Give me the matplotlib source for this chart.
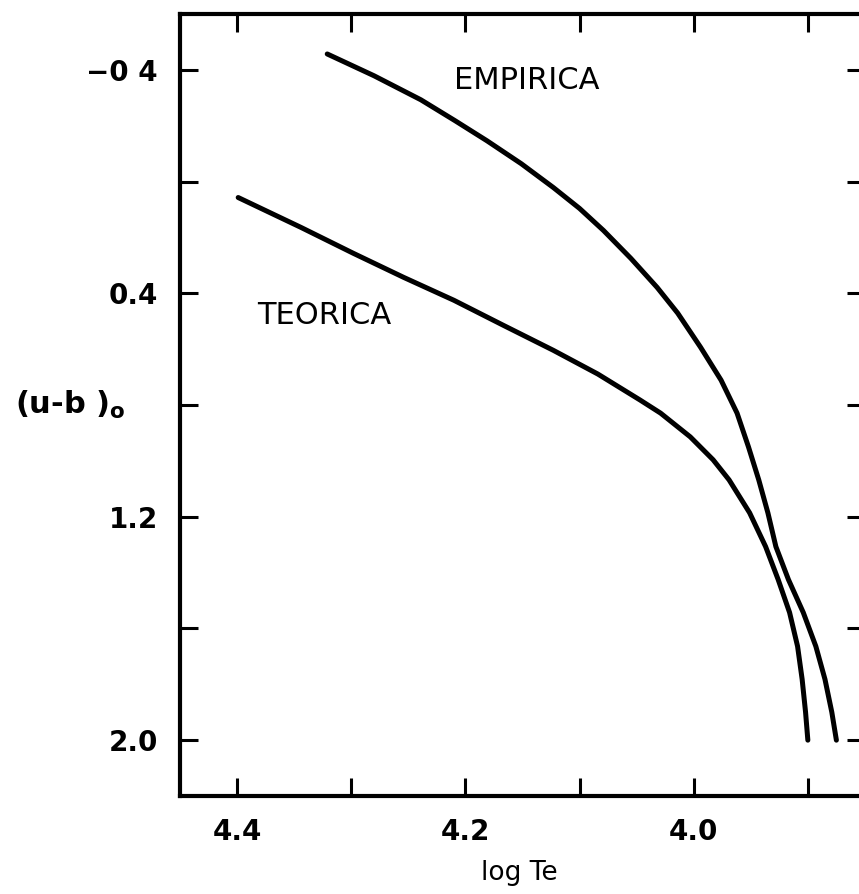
import numpy as np
import matplotlib
matplotlib.use("Agg")
import matplotlib.pyplot as plt

# --- Data: (u-b)o colour vs log Te calibration curves ---
empirica_logte = [4.321, 4.280, 4.239, 4.209, 4.181, 4.151, 4.123, 4.100,
                  4.079, 4.055, 4.032, 4.014, 3.994, 3.976, 3.962, 3.952,
                  3.943, 3.935, 3.928, 3.917, 3.904, 3.893, 3.885, 3.879,
                  3.875]
empirica_ub = [-0.457, -0.379, -0.293, -0.218, -0.146, -0.064, 0.021, 0.096,
               0.175, 0.275, 0.379, 0.471, 0.593, 0.711, 0.829, 0.950,
               1.068, 1.186, 1.307, 1.425, 1.543, 1.664, 1.782, 1.900,
               2.000]

teorica_logte = [4.399, 4.344, 4.298, 4.254, 4.210, 4.167, 4.123, 4.084,
                 4.047, 4.029, 4.003, 3.983, 3.969, 3.951, 3.937, 3.926,
                 3.916, 3.909, 3.905, 3.902, 3.900]
teorica_ub = [0.057, 0.164, 0.257, 0.343, 0.425, 0.514, 0.604, 0.689,
              0.782, 0.829, 0.914, 0.996, 1.068, 1.186, 1.307, 1.425,
              1.543, 1.664, 1.782, 1.900, 2.000]

x_ticks = [4.4, 4.3, 4.2, 4.1, 4.0, 3.9]
x_ticklabels = ["4.4", "", "4.2", "", "4.0", ""]
y_ticks = [-0.4, 0.0, 0.4, 0.8, 1.2, 1.6, 2.0]
y_ticklabels = ["\u22120 4", "", "0.4", "", "1.2", "", "2.0"]

plt.rcParams['font.family'] = ['DejaVu Sans']
plt.rcParams['mathtext.fontset'] = 'dejavusans'

fig = plt.figure(figsize=(8.59, 8.94), dpi=100)
ax = fig.add_axes([0.2095, 0.1096, 0.7974, 0.8747])

line_kw = dict(color='black', lw=3.6, solid_capstyle='round',
               solid_joinstyle='round')
ax.plot(empirica_logte, empirica_ub, **line_kw)
ax.plot(teorica_logte, teorica_ub, **line_kw)

ax.set_xlim(4.45, 3.85)
ax.set_ylim(2.2, -0.6)

ax.set_xticks(x_ticks)
ax.set_xticklabels(x_ticklabels)
ax.set_yticks(y_ticks)
ax.set_yticklabels(y_ticklabels)

ax.tick_params(axis='both', direction='in', length=13, width=2.2,
               labelsize=20, color='black')
ax.tick_params(axis='x', top=True, bottom=True, pad=16)
ax.tick_params(axis='y', left=True, right=True, pad=16)
for lab in ax.get_xticklabels() + ax.get_yticklabels():
    lab.set_fontweight('bold')

for side in ['left', 'right', 'top', 'bottom']:
    ax.spines[side].set_linewidth(3.0)

# curve names
ax.text(4.146, -0.361, "EMPIRICA", fontsize=22,
        ha='center', va='center')
ax.text(4.324, 0.479, "TEORICA", fontsize=22,
        ha='center', va='center')

ax.set_xlabel("log Te", fontsize=19)
ax.xaxis.set_label_coords(0.495, -0.0985)
ax.xaxis.label.set_va('center')

fig.text(0.017, 0.547, r"(u-b )$_{\mathbf{o}}$", fontsize=22,
         fontweight='bold', ha='left', va='center')

fig.savefig("out.png", dpi=100, facecolor='white')
